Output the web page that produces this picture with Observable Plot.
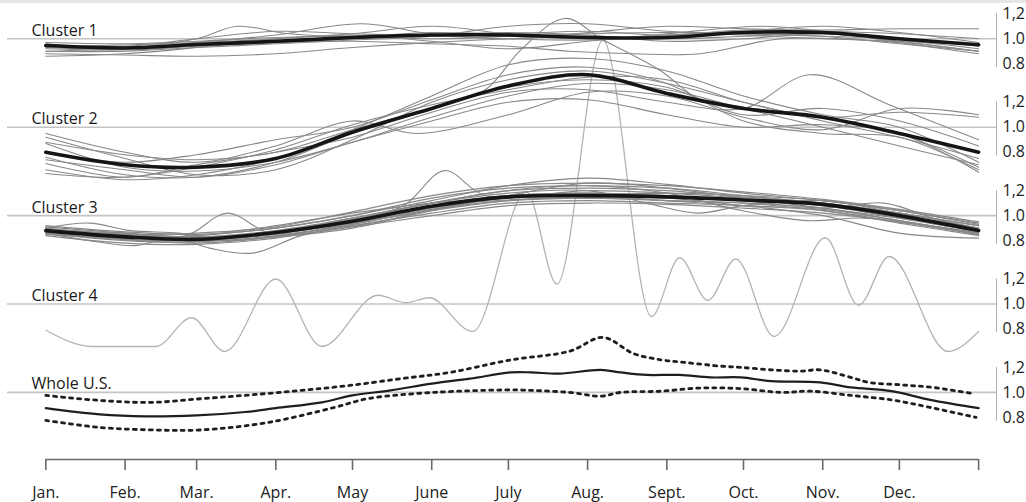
<!DOCTYPE html>
<html><head><meta charset="utf-8">
<script src="https://cdn.jsdelivr.net/npm/d3@7"></script>
<script src="https://cdn.jsdelivr.net/npm/@observablehq/plot@0.6"></script>
<style>
html,body{margin:0;padding:0;background:#fff;}
#topband{height:3px;background:#e6e6e6;}
#chart svg{display:block;}
</style></head><body>
<div id="topband"></div>
<div id="chart"></div>
<script>
// ---------- data ----------
const panels = ["Cluster 1", "Cluster 2", "Cluster 3", "Cluster 4", "Whole U.S."];
const monthDays = [0, 31, 59, 90, 120, 151, 181, 212, 243, 273, 304, 334, 365];
const monthLabels = ["Jan.", "Feb.", "Mar.", "Apr.", "May", "June", "July", "Aug.", "Sept.", "Oct.", "Nov.", "Dec.", ""];
const rightTicks = [0.8, 1.0, 1.2];
const rightTickLabels = ["0.8", "1.0", "1,2"];

// cluster means (values at month starts)
const cluster1Mean = [0.946, 0.927, 0.954, 0.98, 1.01, 1.03, 1.03, 1.01, 1.01, 1.05, 1.05, 1.0, 0.952];
const cluster2Mean = [0.80, 0.70, 0.68, 0.75, 0.96, 1.15, 1.33, 1.42, 1.27, 1.15, 1.08, 0.95, 0.80];
const cluster3Mean = [0.88, 0.83, 0.81, 0.865, 0.955, 1.075, 1.15, 1.16, 1.15, 1.125, 1.09, 1.0, 0.88];

// individual series: plain arrays are values at month starts, pair arrays are [day, value]
const cluster1Lines = [
  [[0,0.96],[31,0.93],[59,1.0],[75,1.1],[95,1.04],[120,1.02],[151,1.05],[181,1.04],[212,1.06],[243,1.03],[273,1.07],[304,1.06],[334,1.04],[365,1.0]],
  [[0,0.93],[31,0.92],[59,0.97],[90,1.03],[123,1.12],[151,1.04],[181,1.0],[212,1.05],[243,1.1],[273,1.08],[304,1.07],[334,1.08],[365,1.08]],
  [0.88, 0.87, 0.86, 0.88, 0.93, 0.97, 1.0, 1.02, 1.0, 1.02, 1.04, 0.98, 0.90],
  [[0,0.90],[31,0.92],[59,0.95],[90,0.97],[120,0.98],[151,0.96],[181,0.94],[205,0.90],[230,0.88],[256,0.88],[288,1.0],[334,0.97],[365,0.90]],
  [[0,0.86],[31,0.88],[59,0.93],[90,1.0],[120,1.03],[151,0.98],[181,0.92],[212,0.98],[243,1.04],[280,1.1],[304,1.06],[334,0.97],[365,0.88]],
  [0.95, 0.94, 1.0, 1.06, 1.04, 1.03, 1.05, 1.03, 0.98, 1.0, 1.04, 0.99, 0.92],
  [0.90, 0.90, 0.93, 0.96, 0.99, 1.02, 1.1, 1.12, 1.06, 1.04, 1.02, 1.0, 0.94],
  [0.92, 0.91, 0.94, 0.97, 1.0, 1.02, 1.0, 0.99, 1.02, 1.04, 1.02, 0.96, 0.90],
  [0.94, 0.95, 0.97, 1.0, 1.04, 1.1, 1.04, 1.0, 1.03, 1.06, 1.1, 1.05, 0.97],
  [0.97, 0.96, 0.98, 1.01, 1.02, 1.0, 1.02, 1.04, 1.05, 1.03, 1.0, 0.98, 0.95]
];
const cluster2Lines = [
  [0.92, 0.75, 0.62, 0.66, 0.90, 1.20, 1.38, 1.45, 1.35, 1.20, 1.05, 0.92, 0.75],
  [0.87, 0.68, 0.65, 0.72, 0.88, 1.08, 1.25, 1.35, 1.30, 1.15, 1.00, 0.85, 0.70],
  [[0,0.76],[31,0.62],[59,0.60],[90,0.72],[120,0.95],[151,1.15],[172,1.30],[186,1.62],[203,1.87],[218,1.70],[240,1.46],[256,1.22],[273,1.16],[304,1.08],[334,0.95],[365,0.68]],
  [[0,0.71],[31,0.60],[59,0.70],[90,0.80],[120,0.92],[151,1.12],[181,1.28],[212,1.30],[243,1.20],[273,1.15],[299,1.42],[330,1.18],[365,0.90]],
  [0.66, 0.58, 0.62, 0.75, 0.98, 1.25, 1.50, 1.55, 1.45, 1.25, 1.10, 1.00, 0.72],
  [0.63, 0.60, 0.68, 0.82, 1.02, 1.18, 1.30, 1.40, 1.38, 1.20, 1.08, 1.12, 1.08],
  [[0,0.95],[31,0.80],[59,0.72],[90,0.85],[120,1.05],[145,0.95],[181,1.10],[212,1.28],[243,1.25],[273,1.08],[304,0.98],[334,1.15],[365,1.10]],
  [0.80, 0.72, 0.78, 0.90, 1.00, 1.22, 1.42, 1.48, 1.35, 1.05, 0.95, 0.92, 0.66],
  [0.74, 0.66, 0.60, 0.70, 0.88, 1.05, 1.20, 1.22, 1.10, 1.00, 1.02, 0.95, 0.64],
  [0.88, 0.78, 0.74, 0.80, 0.98, 1.15, 1.32, 1.38, 1.32, 1.10, 1.15, 1.05, 0.85]
];
const cluster3Lines = [
  [0.90, 0.85, 0.83, 0.88, 0.98, 1.10, 1.20, 1.22, 1.20, 1.15, 1.10, 1.02, 0.90],
  [0.86, 0.80, 0.79, 0.84, 0.93, 1.05, 1.12, 1.14, 1.12, 1.10, 1.06, 0.96, 0.86],
  [0.92, 0.87, 0.85, 0.90, 1.00, 1.12, 1.24, 1.30, 1.25, 1.18, 1.12, 1.04, 0.94],
  [0.84, 0.78, 0.77, 0.82, 0.92, 1.02, 1.10, 1.12, 1.10, 1.08, 1.04, 0.94, 0.84],
  [[0,0.87],[31,0.82],[55,0.84],[71,1.02],[88,0.86],[120,0.94],[151,1.08],[181,1.16],[212,1.18],[243,1.16],[273,1.12],[304,1.08],[334,0.98],[365,0.87]],
  [[0,0.89],[31,0.84],[59,0.82],[90,0.86],[120,0.96],[140,1.08],[156,1.36],[172,1.16],[212,1.20],[243,1.18],[273,1.14],[304,1.10],[334,1.00],[365,0.89]],
  [[0,0.88],[31,0.84],[59,0.82],[90,0.87],[120,0.97],[151,1.10],[181,1.20],[212,1.24],[243,1.18],[270,1.05],[298,0.96],[320,0.98],[345,0.92],[365,0.86]],
  [[0,0.90],[17,0.94],[33,0.88],[52,0.86],[72,0.80],[92,0.84],[120,0.93],[151,1.06],[181,1.14],[212,1.16],[243,1.12],[273,1.08],[304,1.05],[334,0.96],[365,0.85]],
  [[0,0.86],[31,0.81],[59,0.80],[90,0.85],[120,0.95],[151,1.08],[181,1.16],[212,1.18],[243,1.16],[273,1.12],[304,1.06],[328,1.10],[350,0.96],[365,0.90]],
  [0.88, 0.84, 0.82, 0.86, 0.94, 1.04, 1.12, 1.15, 1.14, 1.08, 1.00, 0.86, 0.82],
  [0.85, 0.82, 0.84, 0.90, 1.00, 1.14, 1.22, 1.24, 1.22, 1.16, 1.10, 1.02, 0.92],
  [[0,0.91],[31,0.86],[59,0.83],[90,0.87],[120,0.98],[151,1.10],[181,1.18],[212,1.20],[235,1.10],[255,1.02],[273,1.08],[304,1.12],[334,1.02],[365,0.92]],
  [0.87, 0.86, 0.80, 0.83, 0.90, 1.04, 1.16, 1.26, 1.22, 1.14, 1.06, 0.98, 0.89],
  [0.90, 0.82, 0.84, 0.92, 1.02, 1.10, 1.14, 1.16, 1.18, 1.16, 1.12, 1.04, 0.93],
  [[0,0.86],[17,0.80],[35,0.76],[50,0.82],[64,0.74],[81,0.70],[100,0.84],[130,0.95],[165,1.10],[212,1.14],[243,1.12],[273,1.10],[304,1.04],[334,0.95],[365,0.85]],
  [0.89, 0.85, 0.86, 0.91, 1.03, 1.16, 1.24, 1.26, 1.24, 1.19, 1.13, 1.05, 0.95],
  [0.87, 0.81, 0.78, 0.83, 0.91, 1.00, 1.08, 1.10, 1.09, 1.06, 1.02, 0.95, 0.85]
];

// cluster 4 (single series)
const cluster4Days = [0, 18, 43, 57, 70, 90, 108, 130, 141, 150, 167, 188, 200, 218, 237, 248, 259, 270, 285, 305, 318, 330, 353, 365];
const cluster4Vals = [0.79, 0.66, 0.66, 0.89, 0.62, 1.20, 0.66, 1.07, 1.01, 1.05, 0.78, 1.90, 1.16, 3.11, 0.90, 1.37, 1.03, 1.36, 0.74, 1.53, 0.99, 1.38, 0.62, 0.78];

// whole U.S.
const usMidDays = [0, 21, 39, 59, 78, 90, 108, 120, 135, 151, 166, 182, 190, 201, 217, 225, 235, 248, 260, 272, 284, 303, 315, 331, 346, 365];
const usMid     = [0.874, 0.824, 0.808, 0.816, 0.843, 0.874, 0.92, 0.976, 1.016, 1.07, 1.11, 1.16, 1.16, 1.15, 1.18, 1.16, 1.14, 1.14, 1.12, 1.12, 1.09, 1.08, 1.04, 1.01, 0.94, 0.874];
const usHighDays = [0, 21, 41, 61, 80, 100, 119, 139, 158, 182, 205, 218, 230, 241, 250, 264, 272, 284, 295, 303, 315, 322, 335, 347, 363];
const usHigh     = [0.976, 0.936, 0.92, 0.95, 0.98, 1.016, 1.056, 1.11, 1.16, 1.26, 1.33, 1.44, 1.31, 1.26, 1.24, 1.21, 1.20, 1.18, 1.17, 1.18, 1.12, 1.08, 1.06, 1.04, 0.99];
const usLowDays = [0, 21, 41, 61, 87, 113, 126, 152, 182, 190, 205, 217, 225, 241, 256, 272, 288, 299, 315, 331, 346, 364];
const usLow     = [0.776, 0.72, 0.70, 0.70, 0.76, 0.88, 0.95, 1.0, 1.02, 1.016, 1.0, 0.97, 1.0, 1.01, 1.035, 1.03, 1.0, 1.01, 0.976, 0.94, 0.88, 0.80];

// ---------- layout ----------
const STEP = 0.7072;                     // vertical spacing of panels in value units
const off = i => -STEP * i;
const W = 1026, H = 499;
const yTop = 1 + 35.3 / 125;
const yDomain = [yTop - 456 / 125, yTop];
const xDomain = [-15, 372];

function pts(s) {
  return typeof s[0] === "number" ? monthDays.map((d, i) => [d, s[i]]) : s;
}
function rowsFrom(list, panel, kind) {
  const out = [];
  list.forEach((s, k) => pts(s).forEach(([day, v]) => out.push({panel, series: kind + panel + "-" + k, day, value: v})));
  return out;
}
const thinRows = [
  ...rowsFrom(cluster1Lines, 0, "t"),
  ...rowsFrom(cluster2Lines, 1, "t"),
  ...rowsFrom(cluster3Lines, 2, "t")
];
const meanRows = [
  ...rowsFrom([cluster1Mean], 0, "m"),
  ...rowsFrom([cluster2Mean], 1, "m"),
  ...rowsFrom([cluster3Mean], 2, "m")
];
const c4Rows = cluster4Days.map((d, i) => ({panel: 3, series: "c4", day: d, value: cluster4Vals[i]}));
const usMidRows = usMidDays.map((d, i) => ({panel: 4, series: "mid", day: d, value: usMid[i]}));
const usBandRows = [
  ...usHighDays.map((d, i) => ({panel: 4, series: "high", day: d, value: usHigh[i]})),
  ...usLowDays.map((d, i) => ({panel: 4, series: "low", day: d, value: usLow[i]}))
];
const Y = d => d.value + off(d.panel);
const panelIdx = panels.map((p, i) => i);
const yTickVals = panelIdx.flatMap(i => rightTicks.map(v => v + off(i)));
const yTickFmt = d => {
  const i = Math.round((1 - d) / STEP);
  const v = d - off(i);
  const k = rightTicks.findIndex(t => Math.abs(t - v) < 1e-6);
  return rightTickLabels[k];
};

const chart = Plot.plot({
  width: W, height: H,
  marginTop: 0, marginBottom: 43, marginLeft: 7, marginRight: 30,
  style: {fontFamily: "'Open Sans', sans-serif", fontSize: "16px", color: "#222", background: "#fff"},
  x: {domain: xDomain, label: null},
  y: {domain: yDomain, label: null},
  marks: [
    Plot.ruleY(panelIdx, {y: i => 1 + off(i), stroke: "#c4c4c4", strokeWidth: 1.6}),
    Plot.ruleX(panelIdx, {x: () => xDomain[1], y1: i => 0.77 + off(i), y2: i => 1.2 + off(i), stroke: "#b0b0b0", strokeWidth: 1}),
    Plot.line(c4Rows, {x: "day", y: Y, z: "series", curve: "monotone-x", stroke: "#b4b4b4", strokeWidth: 1.3}),
    Plot.line(thinRows, {x: "day", y: Y, z: "series", curve: "catmull-rom", stroke: "#888", strokeWidth: 1.1}),
    Plot.line(meanRows, {x: "day", y: Y, z: "series", curve: "catmull-rom", stroke: "#151515", strokeWidth: 3.6}),
    Plot.line(usBandRows, {x: "day", y: Y, z: "series", curve: "catmull-rom", stroke: "#1e1e1e", strokeWidth: 2.8, strokeDasharray: "3,5"}),
    Plot.line(usMidRows, {x: "day", y: Y, curve: "catmull-rom", stroke: "#1e1e1e", strokeWidth: 2.2}),
    Plot.text(panels, {text: d => d, y: (d, i) => 1 + off(i), frameAnchor: "left", dx: 24, dy: -3,
      lineAnchor: "bottom", textAnchor: "start", fill: "#1a1a1a", fontSize: 16}),
    Plot.axisY({ticks: yTickVals, anchor: "right", tickSize: 0, tickPadding: 6, tickFormat: yTickFmt, label: null, fontSize: 16, fill: "#222"}),
    Plot.ruleY([yDomain[0]], {x1: 0, x2: 365, stroke: "#6a6a6a", strokeWidth: 1.6}),
    Plot.axisX({ticks: monthDays, tickFormat: d => monthLabels[monthDays.indexOf(d)], tickSize: 11, tickPadding: 16,
      label: null, stroke: "#6a6a6a", strokeWidth: 1.6, fontSize: 16, fill: "#222"})
  ]
});
document.getElementById("chart").appendChild(chart);
</script>
</body></html>
